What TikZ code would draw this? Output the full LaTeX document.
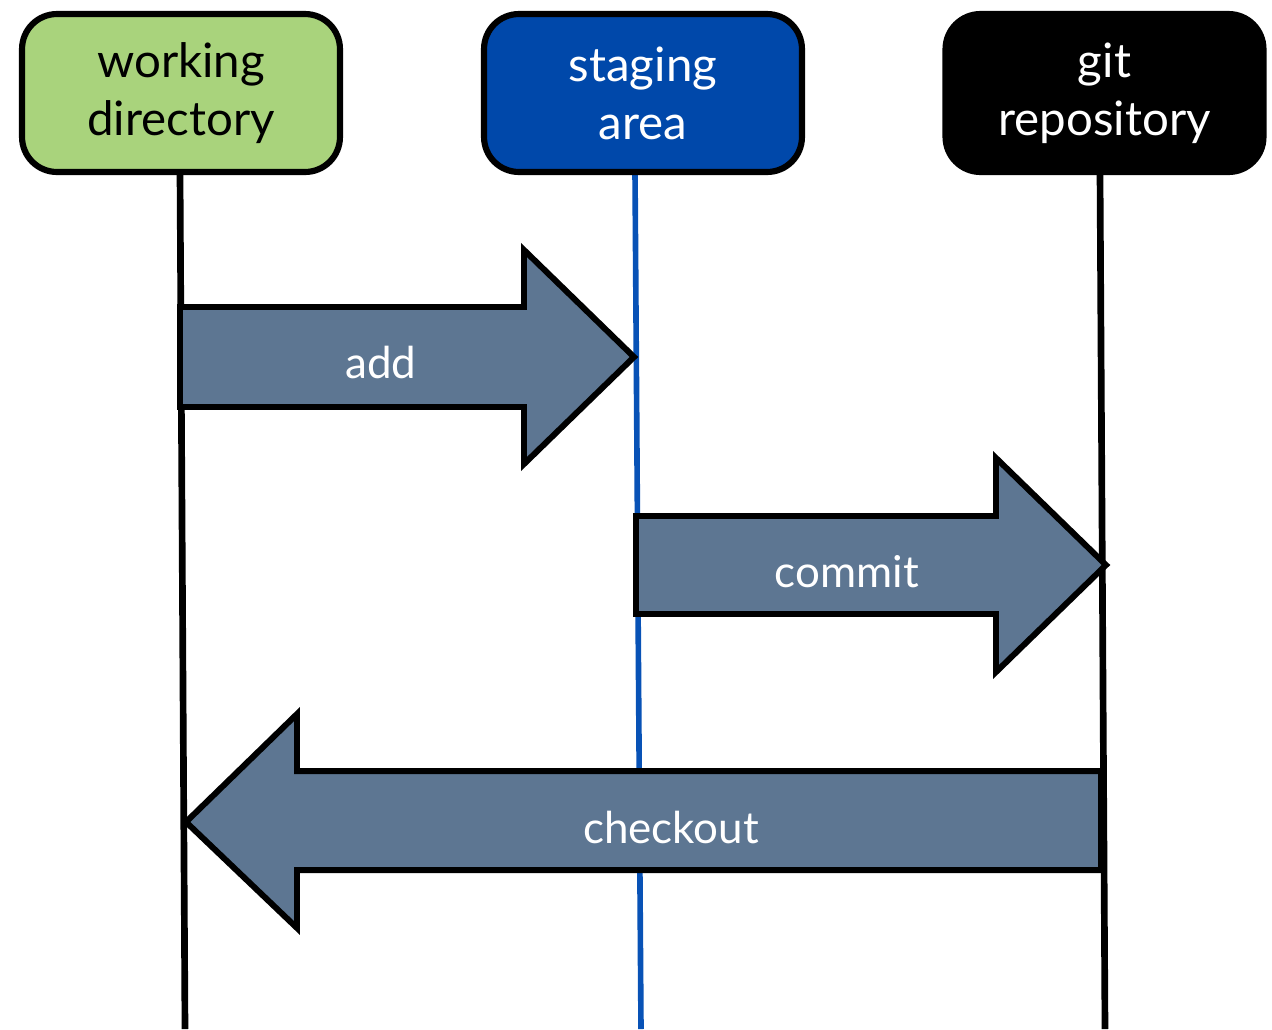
\documentclass[tikz,border=0pt]{standalone}
\usepackage{fontspec}
\setmainfont{Lato}
\definecolor{wdgreen}{RGB}{169,211,124}
\definecolor{sablue}{RGB}{0,72,170}
\definecolor{salineblue}{RGB}{8,82,182}
\definecolor{flowgray}{RGB}{93,118,146}

\begin{document}
\begin{tikzpicture}[x=0.02cm, y=-0.02cm,
  area/.style={draw=black, line width=3.5pt, rounded corners=0.7cm,
    minimum width=6.36cm, minimum height=3.16cm, align=center,
    font=\fontsize{27}{33}\selectfont},
  lifeline/.style={line width=3.8pt},
  flow/.style={draw=black, line width=3.4pt, fill=flowgray, line join=miter},
  flowlabel/.style={white, font=\fontsize{25}{30}\selectfont}]
  \useasboundingbox (0,0) rectangle (1272,1029);

  % the three places
  \coordinate (wdend) at (185,1029);
  \coordinate (saend) at (641,1029);
  \coordinate (grend) at (1105,1029);
  \draw[lifeline] (180,172) -- (wdend);
  \draw[lifeline, salineblue, line width=3.2pt] (635,172) -- (saend);
  \draw[lifeline] (1100,172) -- (grend);
  \node[area, fill=wdgreen] (wd) at (181,93) {working\\directory};
  \node[area, fill=sablue, text=white] (sa) at (643,93) {staging\\area};
  \node[area, fill=black, text=white] (gr) at (1104.5,93) {git\\repository};

  % add
  \draw[flow] (180,307) -- (524,307) -- (524,250) -- (634,357)
    -- (524,464) -- (524,407) -- (180,407) -- cycle;
  \node[flowlabel] (add) at (381,362) {add};

  % commit
  \draw[flow] (636,516) -- (996,516) -- (996,458) -- (1106,565)
    -- (996,672) -- (996,614) -- (636,614) -- cycle;
  \node[flowlabel] (commit) at (847,572) {commit};

  % checkout
  \draw[flow] (1101,771) -- (297,771) -- (297,714) -- (186,822)
    -- (297,928) -- (297,870) -- (1101,870) -- cycle;
  \node[flowlabel] (checkout) at (671,827) {checkout};
\end{tikzpicture}
\end{document}
